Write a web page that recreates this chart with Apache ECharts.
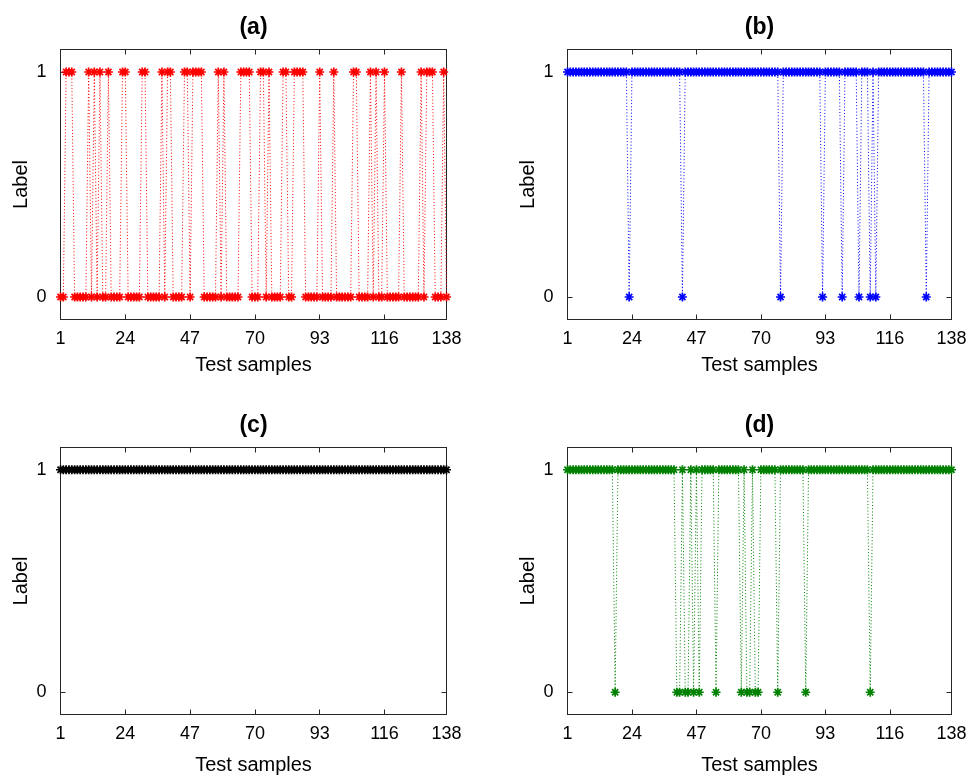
<!DOCTYPE html>
<html>
<head>
<meta charset="utf-8">
<script src="https://cdn.jsdelivr.net/npm/echarts@6/dist/echarts.min.js"></script>
<style>
html,body{margin:0;padding:0;background:#fff;}
#chart{width:977px;height:778px;}
</style>
</head>
<body>
<div id="chart"></div>
<script>
// ---- data ----
var tickLabels = ['1', '24', '47', '70', '93', '116', '138'];
var yTickValues = [0, 1];
var panelTitles = ['(a)', '(b)', '(c)', '(d)'];
var seriesColors = ['#ff0000', '#0000ff', '#000000', '#008000'];

var labelsA = [
  0,0,1,1,1,0,0,0,0,0,
  1,0,1,0,1,0,0,1,0,0,
  0,0,1,1,0,0,0,0,0,1,
  1,0,0,0,0,0,1,0,1,1,
  0,0,0,0,1,1,0,1,1,1,
  1,0,0,0,0,0,1,0,1,0,
  0,0,0,0,1,1,1,1,0,0,
  0,1,1,0,1,0,0,0,0,1,
  1,0,0,1,1,1,1,0,0,0,
  0,0,1,0,0,0,0,1,0,0,
  0,0,0,0,1,1,0,0,0,0,
  1,0,1,0,0,1,0,0,0,0,
  0,1,0,0,0,0,0,0,1,0,
  1,1,1,0,0,0,1,0
];
var labelsB = [
  1,1,1,1,1,1,1,1,1,1,
  1,1,1,1,1,1,1,1,1,1,
  1,1,0,1,1,1,1,1,1,1,
  1,1,1,1,1,1,1,1,1,1,
  1,0,1,1,1,1,1,1,1,1,
  1,1,1,1,1,1,1,1,1,1,
  1,1,1,1,1,1,1,1,1,1,
  1,1,1,1,1,1,0,1,1,1,
  1,1,1,1,1,1,1,1,1,1,
  1,0,1,1,1,1,1,1,0,1,
  1,1,1,1,0,1,1,1,0,1,
  0,1,1,1,1,1,1,1,1,1,
  1,1,1,1,1,1,1,1,0,1,
  1,1,1,1,1,1,1,1
];
var labelsC = [
  1,1,1,1,1,1,1,1,1,1,
  1,1,1,1,1,1,1,1,1,1,
  1,1,1,1,1,1,1,1,1,1,
  1,1,1,1,1,1,1,1,1,1,
  1,1,1,1,1,1,1,1,1,1,
  1,1,1,1,1,1,1,1,1,1,
  1,1,1,1,1,1,1,1,1,1,
  1,1,1,1,1,1,1,1,1,1,
  1,1,1,1,1,1,1,1,1,1,
  1,1,1,1,1,1,1,1,1,1,
  1,1,1,1,1,1,1,1,1,1,
  1,1,1,1,1,1,1,1,1,1,
  1,1,1,1,1,1,1,1,1,1,
  1,1,1,1,1,1,1,1
];
var labelsD = [
  1,1,1,1,1,1,1,1,1,1,
  1,1,1,1,1,1,1,0,1,1,
  1,1,1,1,1,1,1,1,1,1,
  1,1,1,1,1,1,1,1,1,0,
  0,1,0,0,1,0,1,0,1,1,
  1,1,1,0,1,1,1,1,1,1,
  1,1,0,1,0,0,1,0,0,1,
  1,1,1,1,1,0,1,1,1,1,
  1,1,1,1,1,0,1,1,1,1,
  1,1,1,1,1,1,1,1,1,1,
  1,1,1,1,1,1,1,1,0,1,
  1,1,1,1,1,1,1,1,1,1,
  1,1,1,1,1,1,1,1,1,1,
  1,1,1,1,1,1,1,1
];
var allLabels = [labelsA, labelsB, labelsC, labelsD];
var categories = labelsA.map(function (v, i) { return String(i + 1); });

// ---- layout ----
var grids = [
  {left: 60.5, top: 49.5, width: 386, height: 270, nameGap: 36},
  {left: 567.5, top: 49.5, width: 384, height: 270, nameGap: 36},
  {left: 60.5, top: 447.5, width: 386, height: 267, nameGap: 41},
  {left: 567.5, top: 447.5, width: 384, height: 267, nameGap: 41}
];
var FONT = '"Liberation Sans", Arial, Helvetica, sans-serif';
var AX = '#262626';
var starPath = 'path://M5 0L5 10M0 5L10 5M1.6 1.6L8.4 8.4M1.6 8.4L8.4 1.6';

function showTick(idx, val) { return tickLabels.indexOf(val) >= 0; }

var option = {
  animation: false,
  backgroundColor: '#fff',
  grid: grids.map(function (g) {
    return {left: g.left, top: g.top, width: g.width, height: g.height,
      show: true, borderColor: AX, borderWidth: 1, backgroundColor: '#fff'};
  }),
  xAxis: [], yAxis: [], series: [], graphic: []
};

grids.forEach(function (g, k) {
  option.xAxis.push({
    type: 'category', gridIndex: k, data: categories, boundaryGap: false,
    position: 'bottom',
    axisLine: {show: true, onZero: false, lineStyle: {color: AX, width: 1}},
    axisTick: {show: true, inside: true, length: 5, interval: showTick, lineStyle: {color: AX}},
    axisLabel: {show: true, interval: showTick, margin: 11, color: '#000', fontSize: 18, fontFamily: FONT},
    splitLine: {show: false},
    name: 'Test samples', nameLocation: 'middle', nameGap: g.nameGap,
    nameTextStyle: {color: '#000', fontSize: 20, fontFamily: FONT}
  });
  option.xAxis.push({
    type: 'category', gridIndex: k, data: categories, boundaryGap: false,
    position: 'top',
    axisLine: {show: true, onZero: false, lineStyle: {color: AX, width: 1}},
    axisTick: {show: true, inside: true, length: 5, interval: showTick, lineStyle: {color: AX}},
    axisLabel: {show: false}, splitLine: {show: false}
  });
  option.yAxis.push({
    type: 'value', gridIndex: k, min: -0.1, max: 1.1, position: 'left',
    axisLine: {show: true, onZero: false, lineStyle: {color: AX, width: 1}},
    axisTick: {show: true, inside: true, length: 5, customValues: yTickValues, lineStyle: {color: AX}},
    axisLabel: {show: true, customValues: yTickValues, margin: 14, color: '#000', fontSize: 18, fontFamily: FONT},
    splitLine: {show: false},
    name: 'Label', nameLocation: 'middle', nameGap: 29, nameRotate: 90,
    nameTextStyle: {color: '#000', fontSize: 20, fontFamily: FONT}
  });
  option.yAxis.push({
    type: 'value', gridIndex: k, min: -0.1, max: 1.1, position: 'right',
    axisLine: {show: true, onZero: false, lineStyle: {color: AX, width: 1}},
    axisTick: {show: true, inside: true, length: 5, customValues: yTickValues, lineStyle: {color: AX}},
    axisLabel: {show: false}, splitLine: {show: false}
  });
  option.series.push({
    type: 'line', xAxisIndex: 2 * k, yAxisIndex: 2 * k, data: allLabels[k],
    showSymbol: true, showAllSymbol: true, symbol: starPath, symbolSize: 9,
    lineStyle: {color: seriesColors[k], width: 1, type: [1, 2.2]},
    itemStyle: {color: 'rgba(0,0,0,0)', borderColor: seriesColors[k], borderWidth: 1.7},
    emphasis: {disabled: true}, silent: true
  });
  option.graphic.push({
    type: 'text', x: g.left + g.width / 2, y: g.top - 22,
    style: {text: panelTitles[k], fill: '#000', font: 'bold 23px ' + FONT,
      textAlign: 'center', textVerticalAlign: 'middle'}
  });
});

var chart = echarts.init(document.getElementById('chart'), null, {renderer: 'canvas'});
chart.setOption(option);
</script>
</body>
</html>
